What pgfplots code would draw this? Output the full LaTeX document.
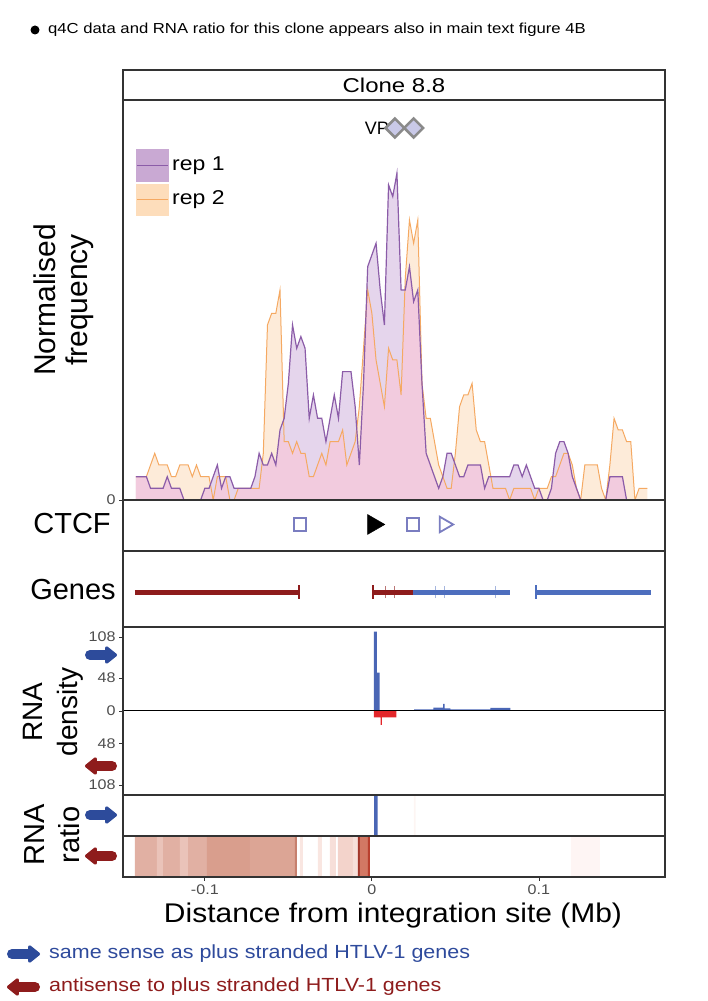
\documentclass[border=0pt]{standalone}
\usepackage{pgfplots}
\usepackage{pgfplotstable}
\pgfplotsset{compat=1.18}
\usepackage{fontspec}
\setmainfont{Liberation Sans}
\usepackage{graphicx}
\usetikzlibrary{arrows.meta}

\definecolor{repone}{HTML}{8B5CA8}
\definecolor{reptwo}{HTML}{F5A962}
\definecolor{lav}{HTML}{E5D5EC}
\definecolor{peach}{HTML}{FDEBD9}
\definecolor{pinkov}{HTML}{F2CBDE}
\definecolor{keyone}{HTML}{C9A9D3}
\definecolor{keytwo}{HTML}{FDDDBB}
\definecolor{axgray}{HTML}{333333}
\definecolor{tickgray}{HTML}{4D4D4D}
\definecolor{genered}{HTML}{8E1C1C}
\definecolor{geneblue}{HTML}{4D6EBE}
\definecolor{ctcfblue}{HTML}{7A7DC0}
\definecolor{rnablue}{HTML}{4A66B5}
\definecolor{rnared}{HTML}{E3262A}
\definecolor{arrblue}{HTML}{2D4B9B}
\definecolor{arrred}{HTML}{8E1C1C}
\definecolor{txtblue}{HTML}{2E4A9C}
\definecolor{diamfill}{HTML}{C9C9E8}
\definecolor{diamgray}{HTML}{8A8A8A}
\definecolor{hA}{HTML}{E1B0A3}
\definecolor{hAl}{HTML}{EAC3B9}
\definecolor{hB}{HTML}{D99E8D}
\definecolor{hC}{HTML}{DCA595}
\definecolor{hD}{HTML}{C6806E}
\definecolor{hF}{HTML}{F9E6E1}
\definecolor{hL}{HTML}{F3D3CB}
\definecolor{hV}{HTML}{F7DFD9}
\definecolor{hR}{HTML}{A3362A}
\definecolor{hM}{HTML}{D27864}
\definecolor{hR2}{HTML}{B9402F}
\definecolor{hFr}{HTML}{FEF5F4}

\newcommand{\tl}[1]{\scalebox{1.15}[1]{#1}}
\newcommand{\fs}[1]{\fontsize{#1}{#1}\selectfont}

\pgfplotstableread{
x r1 r2 mn
-0.1413 2 2 2
-0.1400 2 2 2
-0.1375 2 2 2
-0.1350 2 2 2
-0.1325 1 3 1
-0.1300 1 4 1
-0.1275 1 3 1
-0.1250 1 3 1
-0.1225 2 3 2
-0.1200 1 2 1
-0.1175 1 2 1
-0.1150 1 3 1
-0.1125 0 3 0
-0.1100 0 3 0
-0.1075 0 2 0
-0.1050 0 3 0
-0.1025 0 2 0
-0.1000 1 2 1
-0.0975 1 2 1
-0.0950 2 0 0
-0.0925 3 2 2
-0.0900 1 2 1
-0.0875 2 2 2
-0.0850 2 0 0
-0.0825 1 0 0
-0.0800 1 1 1
-0.0775 1 1 1
-0.0750 1 1 1
-0.0725 1 1 1
-0.0700 2 1 1
-0.0675 4 1 1
-0.0650 3 4 3
-0.0625 3 15 3
-0.0600 4 16 4
-0.0575 3 16 3
-0.0550 6 18 6
-0.0525 7 5 5
-0.0500 10 5 5
-0.0475 15 4 4
-0.0450 13 5 5
-0.0425 14 4 4
-0.0400 13 4 4
-0.0375 7 2 2
-0.0350 9 2 2
-0.0325 7 3 3
-0.0300 7 4 4
-0.0275 5 3 3
-0.0250 7 5 5
-0.0225 9 5 5
-0.0200 7 5 5
-0.0175 11 6 6
-0.0150 11 3 3
-0.0125 11 4 4
-0.0100 8 5 5
-0.0075 3 8 3
-0.0050 10 13 10
-0.0025 20 18 18
0.0000 21 16 16
0.0025 22 12 12
0.0050 18 10 10
0.0075 15 8 8
0.0100 27 13 13
0.0125 26 12 12
0.0150 28 12 12
0.0175 18 9 9
0.0200 18 19 18
0.0225 20 24 20
0.0250 17 22 17
0.0275 18 24 18
0.0300 10 10 10
0.0325 4 7 4
0.0350 3 7 3
0.0375 2 5 2
0.0400 1 3 1
0.0425 2 2 2
0.0450 4 1 1
0.0475 4 1 1
0.0500 3 4 3
0.0525 2 8 2
0.0550 2 9 2
0.0575 3 9 3
0.0600 3 10 3
0.0625 3 6 3
0.0650 3 5 3
0.0675 1 5 1
0.0700 2 3 2
0.0725 2 1 1
0.0750 2 1 1
0.0775 2 1 1
0.0800 2 1 1
0.0825 2 0 0
0.0850 3 1 1
0.0875 3 1 1
0.0900 2 1 1
0.0925 3 1 1
0.0950 2 1 1
0.0975 1 0 0
0.1000 1 1 1
0.1025 0 1 0
0.1050 0 1 0
0.1075 1 2 1
0.1100 4 2 2
0.1125 5 3 3
0.1150 5 4 4
0.1175 4 4 4
0.1200 2 3 2
0.1225 1 1 1
0.1250 0 0 0
0.1275 0 3 0
0.1300 0 3 0
0.1325 0 3 0
0.1350 0 3 0
0.1375 0 1 0
0.1400 0 0 0
0.1425 2 3 2
0.1450 2 7 2
0.1475 2 6 2
0.1500 2 6 2
0.1525 0 5 0
0.1550 0 5 0
0.1575 0 0 0
0.1600 0 1 0
0.1625 0 1 0
0.1650 0 1 0
}\freqtab

\begin{document}
\begin{tikzpicture}[x=1pt,y=1pt]
\path[use as bounding box] (0,0) rectangle (708,1001);
\pgfplotsset{panel/.style={scale only axis, width=542pt, xmin=-0.149, xmax=0.1755,
  anchor=south west, axis on top,
  axis line style={draw=axgray, line width=1.1pt},
  xtick=\empty, ytick=\empty, tick pos=left, tick align=outside,
  major tick length=4pt, tick style={draw=axgray, line width=0.8pt},
  ticklabel style={font=\fs{14}, text=tickgray}}}
\tikzset{fatarrow/.style={line width=10pt, line cap=round, -{Triangle[length=13pt,width=20pt,round]}}}

% note
\fill (35,971) circle (4.5);
\node[anchor=west, inner sep=0pt] at (48,971) {\fs{14.5}\scalebox{1.15}[1]{q4C data and RNA ratio for this clone appears also in main text figure 4B}};

% strip
\draw[draw=axgray, line width=1.1pt] (123,901) rectangle (665,931);
\node at (394,916) {\fs{20}\scalebox{1.2}[1]{Clone 8.8}};

% VP label
\node[anchor=east, inner sep=0pt] at (389,873) {\fs{18}VP};

% main panel
\begin{axis}[panel, at={(123pt,501pt)}, height=400pt, ymin=0, ymax=34.28, ytick={0}, yticklabels={\tl{0}}]
\addplot[draw=none, fill=peach] table[x=x,y=r2]{\freqtab} \closedcycle;
\addplot[draw=none, fill=lav] table[x=x,y=r1]{\freqtab} \closedcycle;
\addplot[draw=none, fill=pinkov] table[x=x,y=mn]{\freqtab} \closedcycle;
\addplot[reptwo, line width=1pt] table[x=x,y=r2]{\freqtab};
\addplot[repone, line width=1.2pt] table[x=x,y=r1]{\freqtab};
\addplot[only marks, mark=square*, mark size=6.7pt, mark options={rotate=45, fill=diamfill, draw=diamgray, line width=2.6pt}] coordinates {(0.0138,31.88) (0.0250,31.88)};
\end{axis}

% legend keys
\fill[keyone] (136,819) rectangle (169,852);
\draw[repone, line width=1pt] (137,835.5) -- (168,835.5);
\fill[keytwo] (136,785) rectangle (169,817);
\draw[reptwo, line width=1pt] (137,801) -- (168,801);
\node[anchor=west, inner sep=0pt] at (172,835.5) {\fs{20}\scalebox{1.15}[1]{rep 1}};
\node[anchor=west, inner sep=0pt] at (172,801) {\fs{20}\scalebox{1.15}[1]{rep 2}};

% CTCF
\begin{axis}[panel, at={(123pt,450pt)}, height=51pt, ymin=0, ymax=1]
\addplot[only marks, mark=square, mark size=6.2pt, ctcfblue, line width=1.8pt] coordinates {(-0.0431,0.52) (0.0246,0.52)};
\addplot[only marks, mark=triangle*, mark size=11.5pt, mark options={rotate=-90, fill=black, draw=black}] coordinates {(0.0009,0.52)};
\addplot[only marks, mark=triangle, mark size=9pt, mark options={rotate=-90}, ctcfblue, line width=1.8pt] coordinates {(0.0433,0.52)};
\end{axis}

% Genes
\begin{axis}[panel, at={(123pt,374pt)}, height=76pt, ymin=0, ymax=1]
\addplot[genered, line width=5pt] coordinates {(-0.1419,0.46) (-0.0437,0.46)};
\addplot[genered, line width=5pt] coordinates {(0.0006,0.46) (0.0246,0.46)};
\addplot[geneblue, line width=5pt] coordinates {(0.0246,0.46) (0.0826,0.46)};
\addplot[geneblue, line width=5pt] coordinates {(0.0982,0.46) (0.1671,0.46)};
\addplot[genered, line width=1.8pt] coordinates {(-0.0437,0.37) (-0.0437,0.55)};
\addplot[genered, line width=1.8pt] coordinates {(0.0006,0.37) (0.0006,0.55)};
\addplot[geneblue, line width=1.8pt] coordinates {(0.0982,0.37) (0.0982,0.55)};
\addplot[genered, line width=0.6pt, opacity=0.6] coordinates {(0.0080,0.38) (0.0080,0.54)};
\addplot[genered, line width=0.6pt, opacity=0.6] coordinates {(0.0134,0.38) (0.0134,0.54)};
\addplot[geneblue, line width=0.6pt, opacity=0.5] coordinates {(0.0377,0.38) (0.0377,0.54)};
\addplot[geneblue, line width=0.6pt, opacity=0.5] coordinates {(0.0431,0.38) (0.0431,0.54)};
\addplot[geneblue, line width=0.6pt, opacity=0.5] coordinates {(0.0740,0.38) (0.0740,0.54)};
\end{axis}

% RNA density
\begin{axis}[panel, at={(123pt,206pt)}, height=168pt, ymin=-122.6, ymax=122.6,
  ytick={-108,-48,0,48,108}, yticklabels={\tl{108},\tl{48},\tl{0},\tl{48},\tl{108}}]
\addplot[fill=rnablue, draw=none] coordinates {(0.0012,0) (0.0012,115.7) (0.0030,115.7) (0.0030,55.9) (0.0046,55.9) (0.0046,0)} \closedcycle;
\addplot[fill=rnablue, draw=none] coordinates {(0.0253,0) (0.0253,2.5) (0.0368,2.5) (0.0368,5) (0.0427,5) (0.0427,10.5) (0.0435,10.5) (0.0435,4) (0.0470,4) (0.0470,2.5) (0.0709,2.5) (0.0709,4.5) (0.0829,4.5) (0.0829,0)} \closedcycle;
\addplot[fill=rnared, draw=none] coordinates {(0.0012,0) (0.0012,-9.3) (0.0053,-9.3) (0.0053,-20.4) (0.0060,-20.4) (0.0060,-9.3) (0.0146,-9.3) (0.0146,0)} \closedcycle;
\addplot[black, line width=1pt] coordinates {(-0.149,0) (0.1755,0)};
\end{axis}

% RNA ratio plus
\begin{axis}[panel, at={(123pt,165pt)}, height=41pt, ymin=0, ymax=1]
\addplot[fill=rnablue, draw=none] coordinates {(0.0014,0) (0.0014,1) (0.0035,1) (0.0035,0)} \closedcycle;
\addplot[fill=hF, draw=none, opacity=0.4] coordinates {(0.0252,0) (0.0252,1) (0.0262,1) (0.0262,0)} \closedcycle;
\end{axis}

% RNA ratio minus
\begin{axis}[panel, at={(123pt,124pt)}, height=41pt, ymin=0, ymax=1,
  xtick={-0.1,0,0.1}, xticklabels={\tl{-0.1},\tl{0},\tl{0.1}}]
\addplot[fill=hA, draw=none] coordinates {(-0.1419,0) (-0.1419,1) (-0.0988,1) (-0.0988,0)} \closedcycle;
\addplot[fill=hAl, draw=none] coordinates {(-0.1287,0) (-0.1287,1) (-0.1251,1) (-0.1251,0)} \closedcycle;
\addplot[fill=hAl, draw=none] coordinates {(-0.1150,0) (-0.1150,1) (-0.1102,1) (-0.1102,0)} \closedcycle;
\addplot[fill=hB, draw=none] coordinates {(-0.0988,0) (-0.0988,1) (-0.0731,1) (-0.0731,0)} \closedcycle;
\addplot[fill=hC, draw=none] coordinates {(-0.0731,0) (-0.0731,1) (-0.0461,1) (-0.0461,0)} \closedcycle;
\addplot[fill=hD, draw=none] coordinates {(-0.0461,0) (-0.0461,1) (-0.0449,1) (-0.0449,0)} \closedcycle;
\addplot[fill=hF, draw=none] coordinates {(-0.0431,0) (-0.0431,1) (-0.0413,1) (-0.0413,0)} \closedcycle;
\addplot[fill=hF, draw=none] coordinates {(-0.0323,0) (-0.0323,1) (-0.0299,1) (-0.0299,0)} \closedcycle;
\addplot[fill=hV, draw=none] coordinates {(-0.0251,0) (-0.0251,1) (-0.0216,1) (-0.0216,0)} \closedcycle;
\addplot[fill=hL, draw=none] coordinates {(-0.0204,0) (-0.0204,1) (-0.0114,1) (-0.0114,0)} \closedcycle;
\addplot[fill=hV, draw=none] coordinates {(-0.0114,0) (-0.0114,1) (-0.0084,1) (-0.0084,0)} \closedcycle;
\addplot[fill=hR, draw=none] coordinates {(-0.0084,0) (-0.0084,1) (-0.0072,1) (-0.0072,0)} \closedcycle;
\addplot[fill=hM, draw=none] coordinates {(-0.0072,0) (-0.0072,1) (-0.0024,1) (-0.0024,0)} \closedcycle;
\addplot[fill=hR2, draw=none] coordinates {(-0.0024,0) (-0.0024,1) (-0.0012,1) (-0.0012,0)} \closedcycle;
\addplot[fill=hFr, draw=none] coordinates {(0.1192,0) (0.1192,1) (0.1365,1) (0.1365,0)} \closedcycle;
\end{axis}

% y labels
\node[rotate=90, align=center, font={\fontsize{30}{32}\selectfont}] at (64,701) {Normalised\\frequency};
\node at (72,477) {\fs{29}CTCF};
\node at (73,411) {\fs{29}Genes};
\node[rotate=90, align=center, font={\fontsize{28}{35}\selectfont}] at (53,289) {RNA\\density};
\node[rotate=90, align=center, font={\fontsize{29}{35}\selectfont}] at (52,166) {RNA\\ratio};

% side arrows
\draw[fatarrow, arrblue] (90,346) -- (117,346);
\draw[fatarrow, arrred] (112,235) -- (85,235);
\draw[fatarrow, arrblue] (90,186) -- (117,186);
\draw[fatarrow, arrred] (112,145) -- (85,145);

% x label
\node at (393,85) {\fs{27}\scalebox{1.11}[1]{Distance from integration site (Mb)}};

% bottom legend
\draw[fatarrow, arrblue] (12,47) -- (40,47);
\draw[fatarrow, arrred] (35,14) -- (7,14);
\node[anchor=west, inner sep=0pt, text=txtblue] at (49,47) {\fs{19}\scalebox{1.13}[1]{same sense as plus stranded HTLV-1 genes}};
\node[anchor=west, inner sep=0pt, text=arrred] at (49,14) {\fs{19}\scalebox{1.13}[1]{antisense to plus stranded HTLV-1 genes}};
\end{tikzpicture}
\end{document}
